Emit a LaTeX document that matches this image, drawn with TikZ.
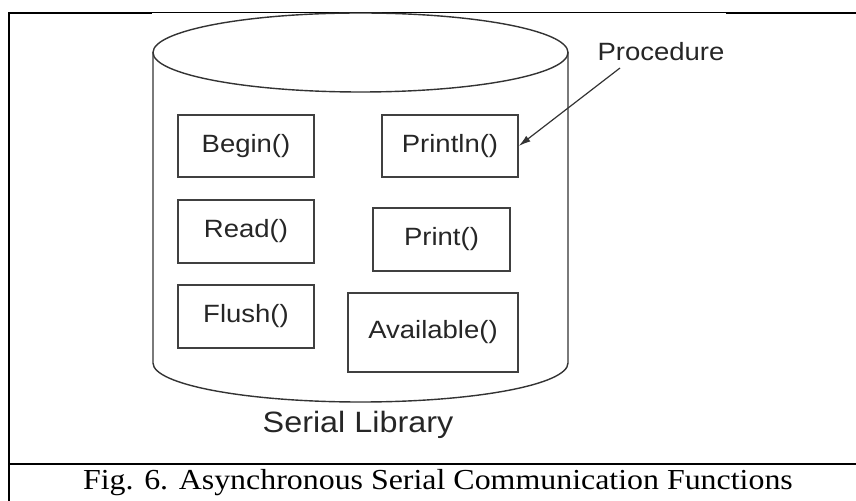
\documentclass[tikz,border=0pt]{standalone}
\usepackage{fontspec}
\setmainfont[FakeStretch=1.1]{Liberation Serif}
\newfontfamily\diagfont[FakeStretch=1.1]{Liberation Sans}
\usetikzlibrary{arrows.meta}
\tikzset{%
    function box/.style={
            rectangle,
            draw=black!75,
            line width=0.75pt,
            font=\diagfont\fontsize{12.5}{15}\selectfont,
            text=black!85,
            inner sep=0pt
        },
    library line/.style={
            draw=black!80,
            line width=0.7pt
        },
    frame line/.style={
            line width=1pt
        },
}

\begin{document}
\begin{tikzpicture}[x=0.5pt, y=-0.5pt, >={Latex[length=6pt,width=3.5pt]}]
        \useasboundingbox (0,0) rectangle (856,501);

        % table frame
        \draw [frame line] (9,13) -- (152,13);
        \draw [line width=0.5pt] (152,13) -- (726,13);
        \draw [frame line] (726,13) -- (856,13);
        \draw [frame line] (9,12.5) -- (9,501);
        \draw [frame line] (9,464) -- (856,464);

        % the library
        \draw [library line] (153,52) -- (153,363)
        arc [start angle=180, end angle=0, x radius=207.5, y radius=39] -- (568,52);
        \draw [library line] (360.5,52.5) ellipse [x radius=207.5, y radius=39.5];

        \foreach \n/\t/\x/\y/\w/\h in {begin/Begin()/246/146/68/31,
                println/Println()/450/146/68/31,
                read/Read()/246/231.5/68/31.5,
                print/Print()/441.5/239.5/68.5/31.5,
                flush/Flush()/246/316.5/68/31.5,
                available/Available()/433/332.5/85/39.5}
        \node [function box, minimum width=\w pt, minimum height=\h pt] (\n) at (\x,\y) {\t};

        \node [anchor=base, text=black!85, font=\diagfont\fontsize{14.7}{17}\selectfont] (library) at (358,433) {Serial Library};

        \node [anchor=base, text=black!85, font=\diagfont\fontsize{12.5}{15}\selectfont] (proc) at (661,61) {Procedure};
        \coordinate (proc-tail) at (620,68);
        \draw [->, draw=black!80, line width=0.6pt] (proc-tail) -- (println.east);

        \node [anchor=base, font=\fontsize{14.5}{17}\selectfont] (caption) at (438,490) {Fig. 6. Asynchronous Serial Communication Functions};

    \end{tikzpicture}
\end{document}
